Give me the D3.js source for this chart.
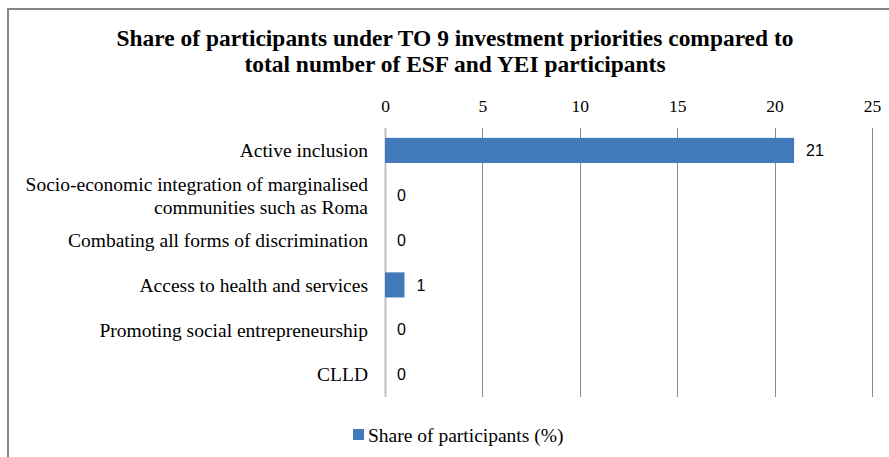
<!DOCTYPE html>
<html>
<head>
<meta charset="utf-8">
<script src="https://cdn.jsdelivr.net/npm/d3@7"></script>
<style>
  body { margin: 0; background: #fff; }
  svg { display: block; }
</style>
</head>
<body>
<div id="chart"></div>
<script>
const categories = [
  ['Active inclusion'],
  ['Socio-economic integration of marginalised', 'communities such as Roma'],
  ['Combating all forms of discrimination'],
  ['Access to health and services'],
  ['Promoting social entrepreneurship'],
  ['CLLD']
]
const shareValues = [21, 0, 0, 1, 0, 0]
const tickValues = [0, 5, 10, 15, 20, 25]
const titleLines = [
  'Share of participants under TO 9 investment priorities compared to',
  'total number of ESF and YEI participants'
]
const seriesName = 'Share of participants (%)'

const WIDTH = 889
const HEIGHT = 457
const MARGIN = { top: 128, right: 17, bottom: 60, left: 385 }
const BAR_COLOR = '#4279bb'
const SERIF = 'Liberation Serif'
const SANS = 'Liberation Sans'
const TITLE_X = 455

const svg = d3.select('#chart')
  .append('svg')
  .attr('width', WIDTH)
  .attr('height', HEIGHT)

// chart border (right and bottom edges fall outside the picture)
svg.append('rect')
  .attr('x', 8)
  .attr('y', 9)
  .attr('width', WIDTH)
  .attr('height', HEIGHT)
  .attr('fill', 'none')
  .attr('stroke', '#858585')
  .attr('stroke-width', 2)

// title: tall bold serif, squeezed horizontally like the reference
const title = svg.append('g')
  .selectAll('text')
  .data(titleLines)
  .enter()
  .append('text')
  .attr('x', TITLE_X)
  .attr('y', (d, i) => 46 + i * 26)
  .attr('text-anchor', 'middle')
  .attr('font-family', SERIF)
  .attr('font-weight', 'bold')
  .attr('font-size', 24)
  .attr('fill', '#000')
  .text(d => d)

const squeeze = 677 / title.node().getComputedTextLength()
title.attr('transform', `translate(${TITLE_X},0) scale(${squeeze},1) translate(${-TITLE_X},0)`)

const chartWidth = WIDTH - MARGIN.left - MARGIN.right
const chartHeight = 397 - MARGIN.top

const xScale = d3.scaleLinear()
  .domain([0, 25])
  .range([MARGIN.left, MARGIN.left + chartWidth])

const yScale = d3.scaleBand()
  .domain(d3.range(categories.length))
  .range([MARGIN.top, MARGIN.top + chartHeight])
  .paddingInner(0.44)
  .paddingOuter(0.22)

// gridlines
svg.append('g')
  .selectAll('line')
  .data(tickValues)
  .enter()
  .append('line')
  .attr('x1', d => Math.round(xScale(d)) + 0.5)
  .attr('x2', d => Math.round(xScale(d)) + 0.5)
  .attr('y1', MARGIN.top)
  .attr('y2', MARGIN.top + chartHeight)
  .attr('stroke', d => d === 0 ? '#c0c0c0' : '#8a8a8a')
  .attr('stroke-width', d => d === 0 ? 2 : 1)

// top axis labels
const xAxis = d3.axisTop(xScale)
  .tickValues(tickValues)
  .tickSize(0)
  .tickPadding(16)

svg.append('g')
  .attr('transform', `translate(0, ${MARGIN.top})`)
  .call(xAxis)
  .call(g => g.select('.domain').remove())
  .selectAll('text')
  .attr('font-family', SERIF)
  .attr('font-size', 17.5)
  .attr('fill', '#000')

// bars
svg.append('g')
  .selectAll('rect')
  .data(shareValues)
  .enter()
  .append('rect')
  .attr('x', xScale(0))
  .attr('y', (d, i) => yScale(i))
  .attr('width', d => xScale(d) - xScale(0))
  .attr('height', yScale.bandwidth())
  .attr('fill', BAR_COLOR)

// value labels
svg.append('g')
  .selectAll('text')
  .data(shareValues)
  .enter()
  .append('text')
  .attr('x', d => xScale(d) + 12)
  .attr('y', (d, i) => yScale(i) + yScale.bandwidth() / 2)
  .attr('dy', '0.35em')
  .attr('font-family', SANS)
  .attr('font-size', 16)
  .attr('fill', '#000')
  .text(d => d)

// category labels
const labels = svg.append('g')
  .selectAll('text')
  .data(categories)
  .enter()
  .append('text')
  .attr('text-anchor', 'end')
  .attr('x', MARGIN.left - 17)
  .attr('y', (d, i) => yScale(i) + yScale.bandwidth() / 2)
  .attr('font-family', SERIF)
  .attr('font-size', 19.5)
  .attr('fill', '#000')

labels.each(function (d) {
  const el = d3.select(this)
  d.forEach((line, j) => {
    el.append('tspan')
      .attr('x', MARGIN.left - 17)
      .attr('dy', j === 0 ? `${0.35 - (d.length - 1) * 0.59}em` : '1.18em')
      .text(line)
  })
})

// legend
const legend = svg.append('g')
  .attr('transform', 'translate(353, 435)')

legend.append('rect')
  .attr('x', 0)
  .attr('y', -6)
  .attr('width', 11)
  .attr('height', 11)
  .attr('fill', BAR_COLOR)

legend.append('text')
  .attr('x', 15)
  .attr('y', 0)
  .attr('dy', '0.35em')
  .attr('font-family', SERIF)
  .attr('font-size', 19.5)
  .attr('fill', '#000')
  .text(seriesName)
</script>
</body>
</html>
